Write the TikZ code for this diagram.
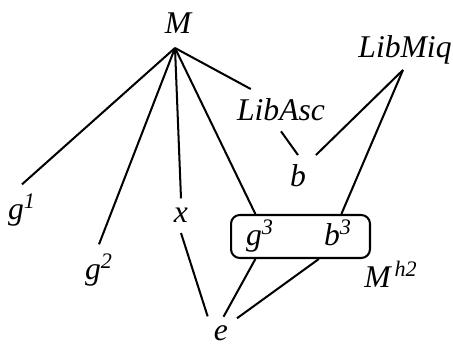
\documentclass[tikz,border=0pt]{standalone}
\usepackage{fontspec}
\setmainfont{Liberation Serif}
\usetikzlibrary{calc}
\tikzset{
  lbl/.style={font=\fontsize{18}{21}\selectfont\itshape, inner sep=5.5pt, anchor=base},
  edge/.style={line width=1.15pt},
}
\begin{document}
\begin{tikzpicture}[x=0.02cm,y=-0.02cm]
  \useasboundingbox (0,0) rectangle (453,347);
  % nodes
  \node[lbl] (M) at (178,34) {M};
  \node[lbl] (LibMiq) at (405,58) {LibMiq};
  \node[lbl] (LibAsc) at (281,121) {LibAsc};
  \node[lbl] (b) at (298,187) {b};
  \node[lbl] (g1) at (22,220) {g\textsuperscript{1}};
  \node[lbl] (g2) at (99,280) {g\textsuperscript{2}};
  \node[lbl] (x) at (181,223) {x};
  \node[lbl] (g3) at (260,246) {g\textsuperscript{3}};
  \node[lbl] (b3) at (338,246) {b\textsuperscript{3}};
  \node[lbl] (Mh) at (391,288) {M\textsuperscript{\,h2}};
  \node[lbl, inner sep=2.5pt] (e) at (221,341) {e};
  \node[draw, line width=1.15pt, rounded corners=5pt, minimum width=2.78cm, minimum height=0.86cm] (box) at (300.5,236.5) {};
  \coordinate (Mp) at (175,48);
  \coordinate (Lq) at (403,70);
  % lines from M
  \draw[edge] (Mp) -- (g1.north);
  \draw[edge] (Mp) -- (g2.north);
  \draw[edge] (Mp) -- (x.north);
  \draw[edge] (Mp) -- ($(box.north west)!0.18!(box.north east)$);
  \draw[edge] (Mp) -- ($(LibAsc.north west)!0.22!(LibAsc.north east)$);
  % b and LibMiq
  \draw[edge] (LibAsc.south) -- (b.north);
  \draw[edge] (Lq) -- (b.north east);
  \draw[edge] (Lq) -- ($(box.north west)!0.79!(box.north east)$);
  % down to e
  \draw[edge, shorten >=3pt] (x.south) -- (e.north west);
  \draw[edge, shorten >=3pt] ($(box.south west)!0.18!(box.south east)$) -- (e.north);
  \draw[edge, shorten >=3pt] ($(box.south west)!0.63!(box.south east)$) -- (e.north east);
\end{tikzpicture}
\end{document}
